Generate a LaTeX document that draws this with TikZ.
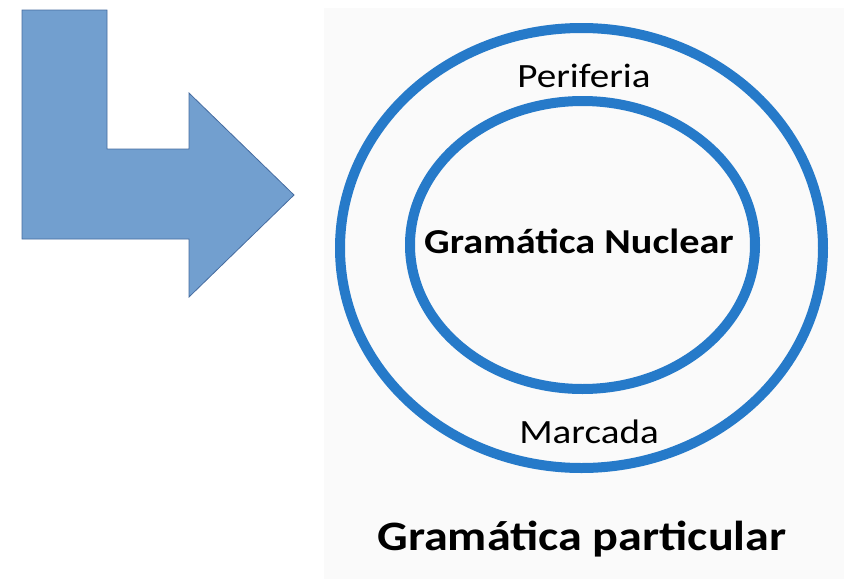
\documentclass[tikz,border=0pt]{standalone}
\usepackage{fontspec}
\setmainfont{Carlito}[FakeStretch=1.15]
\definecolor{arrowblue}{RGB}{114,159,207}
\definecolor{arrowedge}{RGB}{70,108,160}
\definecolor{ringblue}{RGB}{38,122,201}
\definecolor{panelgray}{RGB}{250,250,250}

\begin{document}
\begin{tikzpicture}[x=0.75pt,y=-0.75pt,
	ring/.style={draw=ringblue,line width=7.5pt},
	ringtext/.style={anchor=base,inner sep=0pt,font=\fontsize{25.5}{30}\selectfont},
	boldtext/.style={anchor=base,inner sep=0pt,font=\bfseries\fontsize{26.25}{31}\selectfont}]
	\useasboundingbox (0,0) rectangle (844,579);
	\fill[panelgray] (324,8) rectangle (844,579);

	\filldraw[fill=arrowblue,draw=arrowedge,line width=0.6pt]
		(22,10) -- (107,10) -- (107,149) -- (189,149) -- (189,93) -- (294,195)
		-- (189,297) -- (189,239) -- (22,239) -- cycle;

	\coordinate (outerc) at (581.5,248);
	\coordinate (innerc) at (582.5,245);
	\draw[ring] (outerc) ellipse [x radius=241.5, y radius=220];
	\draw[ring] (innerc) ellipse [x radius=172.5, y radius=144];

	\node[ringtext] (periferia) at (584,87) {Periferia};
	\node[boldtext] (nuclear) at (579,253) {Gramática Nuclear};
	\node[ringtext] (marcada) at (589,443) {Marcada};
	\node[boldtext,font=\bfseries\fontsize{31.4}{36}\selectfont] (particular) at (582,550) {Gramática particular};

	\end{tikzpicture}
\end{document}
